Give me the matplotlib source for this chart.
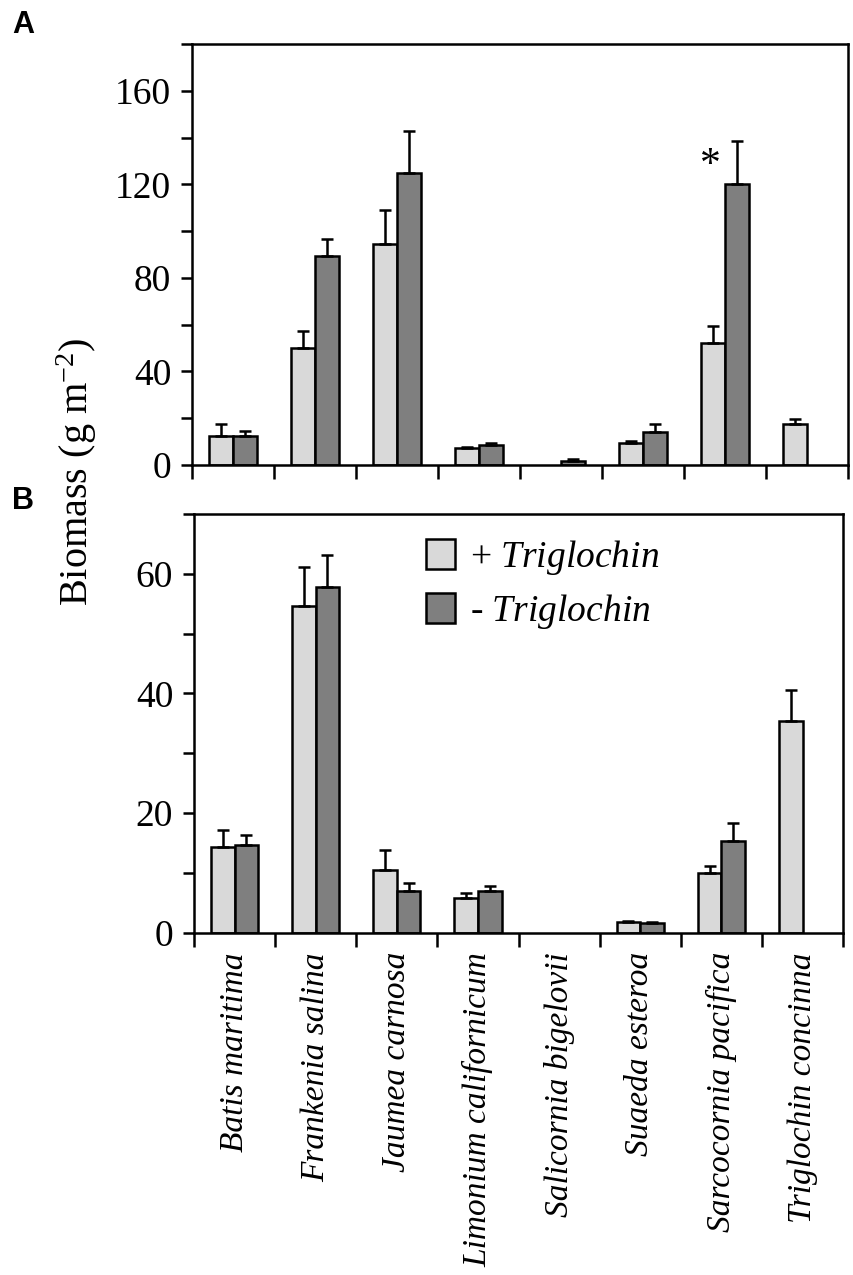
import glob

import numpy as np
import matplotlib
matplotlib.use("Agg")
import matplotlib.pyplot as plt
from matplotlib import font_manager
from matplotlib.patches import Patch
from matplotlib.ticker import MultipleLocator

for path in glob.glob("/usr/share/fonts/truetype/liberation/*.ttf"):
    font_manager.fontManager.addfont(path)

plt.rcParams["font.family"] = ["Liberation Serif", "DejaVu Serif"]
plt.rcParams["mathtext.fontset"] = "custom"
plt.rcParams["mathtext.rm"] = "Liberation Serif"
plt.rcParams["mathtext.it"] = "Liberation Serif:italic"

species = [
    "Batis maritima", "Frankenia salina", "Jaumea carnosa", "Limonium californicum",
    "Salicornia bigelovii", "Suaeda esteroa", "Sarcocornia pacifica", "Triglochin concinna",
]

# panel A (nan = no bar)
a_plus = [12.5, 50.1, 94.6, 7.1, np.nan, 9.2, 52.0, 17.4]
a_plus_err = [5.2, 7.3, 14.6, 0.6, np.nan, 1.2, 7.6, 2.2]
a_minus = [12.5, 89.4, 124.7, 8.5, 1.8, 13.9, 120.3, np.nan]
a_minus_err = [2.1, 7.1, 18.1, 1.1, 0.6, 3.8, 18.3, np.nan]

# panel B
b_plus = [14.3, 54.6, 10.4, 5.8, np.nan, 1.8, 10.0, 35.4]
b_plus_err = [2.9, 6.5, 3.4, 0.8, np.nan, 0.2, 1.2, 5.2]
b_minus = [14.6, 57.8, 6.9, 6.9, np.nan, 1.6, 15.4, np.nan]
b_minus_err = [1.8, 5.4, 1.4, 0.9, np.nan, 0.2, 2.9, np.nan]

LIGHT = "#d9d9d9"
DARK = "#7f7f7f"
W = 0.29
LW = 1.8

fig = plt.figure(figsize=(8.54, 12.75), dpi=100)
ax_a = fig.add_axes([0.2248, 0.6353, 0.768, 0.3302])
ax_b = fig.add_axes([0.2272, 0.2685, 0.760, 0.3284])


def draw(ax, plus, plus_err, minus, minus_err, top, major, minor):
    x = np.arange(len(species))
    for off, vals, errs, col in ((-W / 2, plus, plus_err, LIGHT), (W / 2, minus, minus_err, DARK)):
        vals = np.array(vals)
        errs = np.array(errs)
        ok = ~np.isnan(vals)
        ax.bar(x[ok] + off, vals[ok], width=W, color=col, edgecolor="black",
               linewidth=LW, zorder=2)
        ax.errorbar(x[ok] + off, vals[ok], yerr=[np.zeros(ok.sum()), errs[ok]],
                    fmt="none", ecolor="black", elinewidth=LW, capsize=4.5,
                    capthick=LW, zorder=3)
    ax.set_xlim(-0.5, len(species) - 0.5)
    ax.set_ylim(0, top)
    ax.yaxis.set_major_locator(MultipleLocator(major))
    ax.yaxis.set_minor_locator(MultipleLocator(minor))
    ax.set_xticks(x)
    ax.set_xticks(np.arange(-0.5, len(species)), minor=True)
    ax.tick_params(axis="x", which="major", length=0)
    ax.tick_params(axis="x", which="minor", length=10, width=LW, direction="out")
    ax.tick_params(axis="y", which="both", length=8, width=LW, direction="out",
                   labelsize=27, pad=7)
    for s in ax.spines.values():
        s.set_linewidth(LW)


draw(ax_a, a_plus, a_plus_err, a_minus, a_minus_err, 180, 40, 20)
draw(ax_b, b_plus, b_plus_err, b_minus, b_minus_err, 70, 20, 10)

ax_a.set_xticklabels([])
ax_b.set_xticklabels(species, rotation=90, style="italic", fontsize=24)
ax_b.tick_params(axis="x", which="major", pad=14)

ax_a.text(6 - 0.18, 128, "*", ha="center", va="center", fontsize=30)

handles = [
    Patch(facecolor=LIGHT, edgecolor="black", linewidth=LW),
    Patch(facecolor=DARK, edgecolor="black", linewidth=LW),
]
ax_b.legend(handles, [r"+ $\mathit{Triglochin}$", r"- $\mathit{Triglochin}$"],
            loc="upper left", bbox_to_anchor=(0.3575, 0.943), frameon=False,
            fontsize=27, handlelength=0.78, handleheight=0.88, handletextpad=0.4,
            labelspacing=0.4, borderpad=0, borderaxespad=0)

fig.text(77 / 854, 0.63, r"Biomass (g m$^{-2}$)", rotation=90, ha="center",
         va="center", fontsize=29)

fig.text(12 / 854, 1 - 33 / 1275, "A", family="Liberation Sans", weight="bold",
         fontsize=22, va="baseline")
fig.text(12 / 854, 1 - 509 / 1275, "B", family="Liberation Sans", weight="bold",
         fontsize=22, va="baseline")

fig.savefig("out.png", dpi=100)
